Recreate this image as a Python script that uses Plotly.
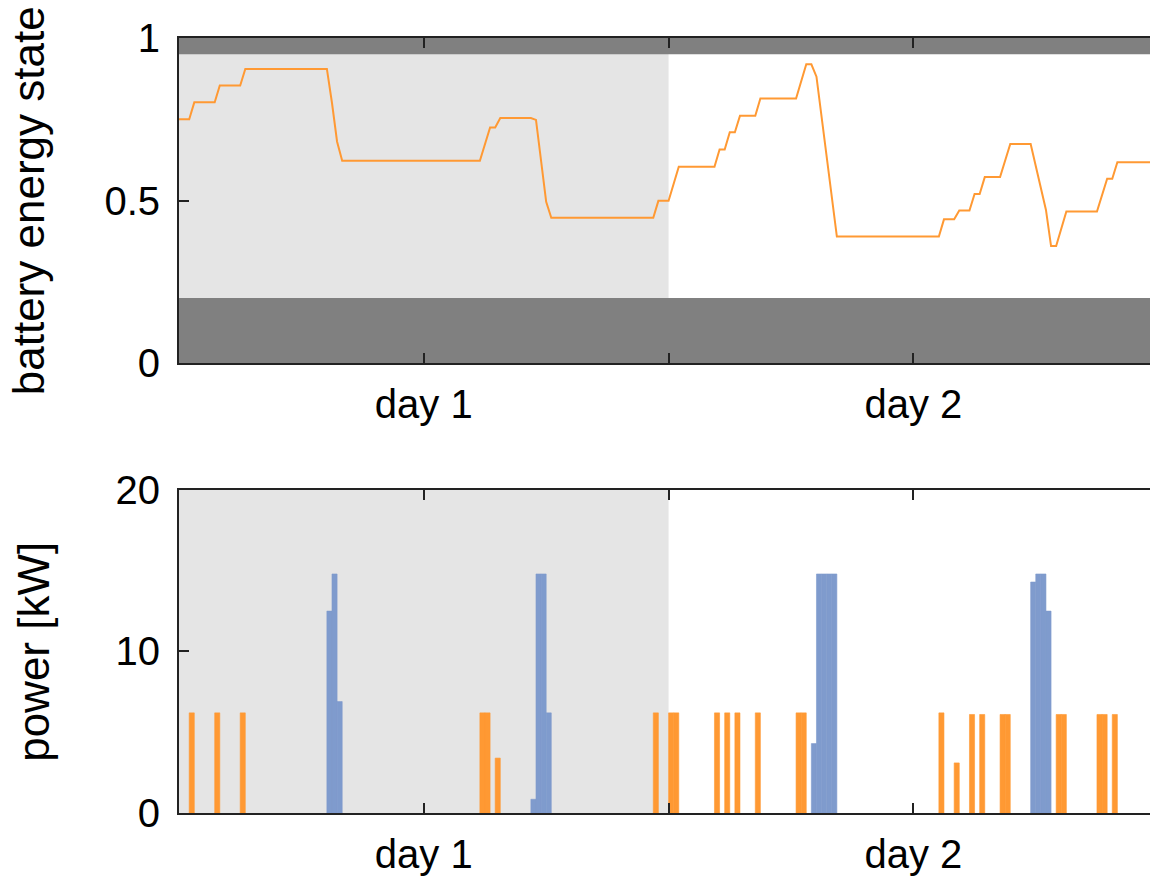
import plotly.graph_objects as go

# ---- data (time in hours, 15-min resolution) ----
soc_hours = [0, 0.5, 0.75, 1.75, 2.0, 3.0, 3.25, 7.25, 7.5, 7.75, 8.0,
             14.75, 15.25, 15.5, 15.75, 17.25, 17.5, 18.0, 18.25,
             23.25, 23.5, 24.0, 24.5, 26.25, 26.5, 26.75, 27.0, 27.25, 27.5,
             28.25, 28.5, 30.25, 30.75, 31.0, 31.25, 32.25,
             37.25, 37.5, 38.0, 38.25, 38.75, 39.0, 39.25, 39.5, 40.25, 40.75,
             41.75, 42.0, 42.5, 42.75, 43.0, 43.5, 45.0, 45.5, 45.75, 46.0, 48.0]
soc_values = [0.75, 0.75, 0.802, 0.802, 0.854, 0.854, 0.905, 0.905, 0.80, 0.681, 0.622,
              0.622, 0.725, 0.725, 0.754, 0.754, 0.748, 0.496, 0.447,
              0.447, 0.499, 0.499, 0.604, 0.604, 0.657, 0.657, 0.71, 0.71, 0.761,
              0.761, 0.814, 0.814, 0.919, 0.919, 0.881, 0.389,
              0.389, 0.442, 0.442, 0.469, 0.469, 0.52, 0.52, 0.572, 0.572, 0.674,
              0.674, 0.604, 0.471, 0.36, 0.36, 0.466, 0.466, 0.567, 0.567, 0.618, 0.618]

charge_hours = [0.5, 1.75, 3.0, 14.75, 15.0, 15.5, 23.25, 24.0, 24.25, 26.25, 26.75,
                27.25, 28.25, 30.25, 30.5, 37.25, 38.0, 38.75, 39.25, 40.25, 40.5,
                43.0, 43.25, 45.0, 45.25, 45.75]
charge_kw = [6.2, 6.2, 6.2, 6.2, 6.2, 3.4, 6.2, 6.2, 6.2, 6.2, 6.2,
             6.2, 6.2, 6.2, 6.2, 6.2, 3.1, 6.1, 6.1, 6.1, 6.1,
             6.1, 6.1, 6.1, 6.1, 6.1]

discharge_hours = [7.25, 7.5, 7.75, 17.25, 17.5, 17.75, 18.0,
                   31.0, 31.25, 31.5, 31.75, 32.0, 41.75, 42.0, 42.25, 42.5]
discharge_kw = [12.5, 14.8, 6.9, 0.85, 14.8, 14.8, 6.2,
                4.3, 14.8, 14.8, 14.8, 14.8, 14.3, 14.8, 14.8, 12.5]

day_tick_hours = [12, 24, 36]
day_tick_labels = ["day 1", "", "day 2"]
soc_ticks = [0, 0.5, 1]
soc_tick_labels = ["0", "0.5", "1"]
power_ticks = [0, 10, 20]
power_tick_labels = ["0", "10", "20"]
soc_limits = [0.2, 0.95]

ORANGE = "#ff9933"
BLUE = "#7f9bcd"
FONT = "Liberation Sans, Arial, sans-serif"

fig = go.Figure()
fig.add_trace(go.Scatter(x=soc_hours, y=soc_values, mode="lines",
                         line=dict(color=ORANGE, width=2), xaxis="x", yaxis="y",
                         showlegend=False))
fig.add_trace(go.Bar(x=charge_hours, y=charge_kw, width=0.25, offset=0,
                     marker=dict(color=ORANGE, line=dict(width=0.6, color=ORANGE)),
                     xaxis="x2", yaxis="y2", showlegend=False))
fig.add_trace(go.Bar(x=discharge_hours, y=discharge_kw, width=0.25, offset=0,
                     marker=dict(color=BLUE, line=dict(width=0.6, color=BLUE)),
                     xaxis="x2", yaxis="y2", showlegend=False))

xcommon = dict(range=[0, 47.6], tickvals=day_tick_hours, ticktext=day_tick_labels,
               ticks="inside", ticklen=10, tickwidth=2, tickcolor="#222",
               showline=True, linecolor="#222", linewidth=2, mirror="ticks",
               showgrid=False, zeroline=False, ticklabelstandoff=5,
               tickfont=dict(family=FONT, size=40, color="black"))
ycommon = dict(ticks="inside", ticklen=10, tickwidth=2, tickcolor="#222",
               showline=True, linecolor="#222", linewidth=2, mirror=False,
               showgrid=False, zeroline=False, ticklabelstandoff=9,
               tickfont=dict(family=FONT, size=40, color="black"))

shapes = [
    dict(type="rect", xref="x", yref="y domain", x0=0, x1=24, y0=0, y1=1,
         fillcolor="#e5e5e5", line=dict(width=0), layer="below"),
    dict(type="rect", xref="x2", yref="y2 domain", x0=0, x1=24, y0=0, y1=1,
         fillcolor="#e5e5e5", line=dict(width=0), layer="below"),
    dict(type="rect", xref="x domain", yref="y", x0=0, x1=1, y0=0, y1=soc_limits[0],
         fillcolor="#808080", line=dict(width=0), layer="below"),
    dict(type="rect", xref="x domain", yref="y", x0=0, x1=1, y0=soc_limits[1], y1=1,
         fillcolor="#808080", line=dict(width=0), layer="below"),
]

fig.update_layout(
    width=1150, height=879,
    margin=dict(l=179, r=0, t=38, b=66),
    paper_bgcolor="white", plot_bgcolor="white",
    barmode="overlay",
    xaxis=dict(domain=[0, 1], anchor="y", **xcommon),
    yaxis=dict(domain=[0.5806, 1], anchor="x", range=[0, 1],
               tickvals=soc_ticks, ticktext=soc_tick_labels, **ycommon),
    xaxis2=dict(domain=[0, 1], anchor="y2", **xcommon),
    yaxis2=dict(domain=[0, 0.4168], anchor="x2", range=[0, 20],
                tickvals=power_ticks, ticktext=power_tick_labels, **ycommon),
    shapes=shapes,
    annotations=[
        dict(text="battery energy state", xref="paper", yref="paper",
             x=-0.155, y=0.79, xanchor="center", yanchor="middle", textangle=-90,
             showarrow=False, font=dict(family=FONT, size=44, color="black")),
        dict(text="power [kW]", xref="paper", yref="paper",
             x=-0.150, y=0.2084, xanchor="center", yanchor="middle", textangle=-90,
             showarrow=False, font=dict(family=FONT, size=44, color="black")),
    ],
)

fig.write_html("out.html", config={"displayModeBar": False},
               post_script="document.body.style.margin='0';"
                           "document.body.style.overflow='hidden';")
